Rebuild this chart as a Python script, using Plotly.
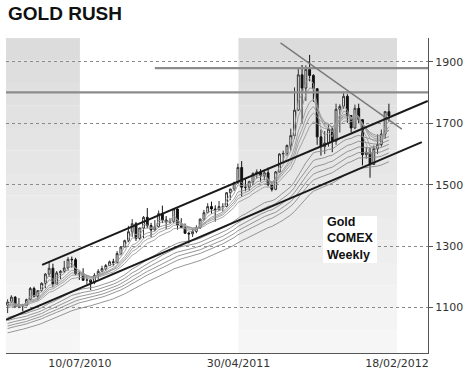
import pandas as pd
import plotly.graph_objects as go

TITLE = "GOLD RUSH"
BOX_TEXT = "Gold<br>COMEX<br>Weekly"

# Weekly candles (week ending Friday), first week 2010-02-26
WEEK_START = "2010-02-26"
OPEN = [1107, 1118, 1134, 1102, 1108, 1106, 1126, 1162, 1137, 1155, 1179, 1209, 1228, 1176, 1213, 1218, 1229, 1257, 1256, 1210,
        1210, 1189, 1190, 1182, 1205, 1218, 1227, 1237, 1249, 1246, 1276, 1297, 1318, 1347, 1373, 1325, 1359, 1394, 1367, 1353,
        1363, 1406, 1385, 1379,
        1380, 1421, 1369, 1361, 1342, 1340, 1348, 1360, 1388, 1409, 1429, 1421, 1418, 1429, 1429, 1474, 1486, 1506, 1556, 1492,
        1492, 1510, 1537, 1542, 1530, 1539, 1500, 1485, 1542, 1600, 1602, 1628, 1660, 1743, 1858, 1815, 1876, 1856, 1813, 1656,
        1624, 1636, 1681, 1642, 1746, 1755, 1788, 1725, 1685, 1749, 1712, 1598, 1606,
        1566, 1617, 1631, 1665, 1738]
HIGH = [1127, 1140, 1137, 1131, 1112, 1129, 1167, 1168, 1157, 1182, 1212, 1250, 1243, 1219, 1222, 1252, 1264, 1266, 1262, 1216,
        1228, 1204, 1193, 1212, 1225, 1236, 1242, 1253, 1259, 1284, 1300, 1321, 1366, 1388, 1379, 1360, 1398, 1424, 1376, 1385,
        1416, 1432, 1398, 1391,
        1424, 1423, 1391, 1374, 1346, 1357, 1368, 1390, 1418, 1440, 1445, 1433, 1447, 1440, 1476, 1487, 1510, 1569, 1577, 1519,
        1513, 1540, 1550, 1551, 1549, 1556, 1511, 1545, 1603, 1611, 1631, 1683, 1817, 1880, 1890, 1889, 1923, 1860, 1813, 1680,
        1675, 1697, 1689, 1764, 1762, 1803, 1795, 1727, 1761, 1764, 1713, 1623, 1620,
        1628, 1664, 1680, 1740, 1764]
LOW = [1082, 1115, 1101, 1098, 1088, 1105, 1123, 1134, 1124, 1150, 1163, 1200, 1166, 1175, 1193, 1213, 1220, 1230, 1206, 1190,
       1187, 1176, 1157, 1176, 1193, 1216, 1220, 1235, 1235, 1244, 1270, 1296, 1313, 1330, 1317, 1320, 1326, 1358, 1330, 1348,
       1360, 1375, 1356, 1373,
       1375, 1354, 1362, 1340, 1309, 1330, 1342, 1356, 1383, 1407, 1406, 1380, 1417, 1413, 1427, 1450, 1480, 1503, 1462, 1479,
       1481, 1499, 1520, 1510, 1515, 1495, 1478, 1482, 1540, 1577, 1594, 1611, 1650, 1740, 1702, 1773, 1837, 1770, 1630, 1595,
       1600, 1624, 1606, 1630, 1670, 1748, 1702, 1670, 1681, 1700, 1563, 1585, 1523,
       1566, 1600, 1624, 1650, 1705]
CLOSE = [1118, 1134, 1102, 1108, 1106, 1126, 1162, 1137, 1155, 1179, 1209, 1228, 1176, 1213, 1218, 1229, 1257, 1256, 1210, 1210,
         1189, 1190, 1182, 1205, 1218, 1227, 1237, 1249, 1246, 1276, 1297, 1318, 1347, 1373, 1325, 1359, 1394, 1367, 1353, 1363,
         1406, 1385, 1379, 1380,
         1421, 1369, 1361, 1342, 1340, 1348, 1360, 1388, 1409, 1429, 1421, 1418, 1429, 1429, 1474, 1486, 1506, 1556, 1492, 1492,
         1510, 1537, 1542, 1530, 1539, 1500, 1485, 1542, 1600, 1602, 1628, 1660, 1743, 1858, 1815, 1876, 1856, 1813, 1656, 1624,
         1636, 1681, 1642, 1746, 1755, 1788, 1725, 1685, 1749, 1712, 1598, 1606, 1566,
         1617, 1631, 1665, 1738, 1725]

# Weekly closes before the visible window (used to seed the moving averages)
WARMUP_START = "2009-01-02"
WARMUP_CLOSE = [878, 853, 840, 897, 928, 914, 941, 1002, 942, 940, 930, 953, 924, 898, 881, 871, 911, 885, 915, 929,
                958, 979, 962, 937, 934, 940, 931, 912, 937, 953, 955, 956, 947, 953, 955, 996, 1007, 1010, 992, 1004,
                1050, 1052, 1056, 1045, 1096, 1117, 1146, 1175, 1161, 1119, 1110, 1105, 1097, 1138, 1141, 1090, 1083,
                1066, 1090, 1120]

EMA_SHORT = [3, 5, 8, 10, 12, 15]
EMA_LONG = [30, 35, 40, 45, 50, 60]

X_TICKS = ["2010-07-10", "2011-04-30", "2012-02-18"]
X_RANGE = ["2010-02-23", "2012-04-15 12:00"]
Y_TICKS = [1100, 1300, 1500, 1700, 1900]
Y_RANGE = [952, 1978]
SHADED_FROM = ["2010-02-23", "2011-04-30"]
SHADED_TO = ["2010-07-10", "2012-02-18"]

CHANNEL_UPPER_X = ["2010-05-01", "2012-04-15"]
CHANNEL_UPPER_Y = [1239, 1773]
CHANNEL_LOWER_X = ["2010-02-23", "2012-04-04"]
CHANNEL_LOWER_Y = [1060, 1639]
DOWNTREND_X = ["2011-07-17", "2012-02-27"]
DOWNTREND_Y = [1962, 1681]
LEVEL_HIGH_X = ["2010-11-26", "2012-04-15 12:00"]
LEVEL_HIGH_Y = [1880, 1880]
LEVEL_LOW_X = ["2010-02-23", "2012-04-15 12:00"]
LEVEL_LOW_Y = [1801, 1801]

dates = pd.date_range(WEEK_START, periods=len(CLOSE), freq="W-FRI")
warm_dates = pd.date_range(WARMUP_START, periods=len(WARMUP_CLOSE), freq="W-FRI")
all_close = pd.Series(WARMUP_CLOSE + CLOSE, index=list(warm_dates) + list(dates))

fig = go.Figure()

# moving-average ribbon
for n in EMA_LONG + EMA_SHORT:
    ema = all_close.ewm(span=n, adjust=False).mean().loc[dates]
    fig.add_trace(go.Scatter(x=dates, y=ema.values, mode="lines",
                             line=dict(color="#8a8a8a" if n >= 30 else "#9a9a9a", width=0.9),
                             hoverinfo="skip", showlegend=False))

fig.add_trace(go.Candlestick(
    x=dates, open=OPEN, high=HIGH, low=LOW, close=CLOSE,
    increasing=dict(line=dict(color="#333333", width=1), fillcolor="white"),
    decreasing=dict(line=dict(color="#111111", width=1), fillcolor="#111111"),
    whiskerwidth=0, showlegend=False))

for xs, ys, col, w in [(LEVEL_LOW_X, LEVEL_LOW_Y, "#8c8c8c", 2.2),
                       (LEVEL_HIGH_X, LEVEL_HIGH_Y, "#8c8c8c", 2.2),
                       (DOWNTREND_X, DOWNTREND_Y, "#7a7a7a", 1.4),
                       (CHANNEL_UPPER_X, CHANNEL_UPPER_Y, "#1a1a1a", 2),
                       (CHANNEL_LOWER_X, CHANNEL_LOWER_Y, "#1a1a1a", 2)]:
    fig.add_trace(go.Scatter(x=xs, y=ys, mode="lines", line=dict(color=col, width=w),
                             hoverinfo="skip", showlegend=False))

# shaded bands with a soft vertical gradient
shapes = []
N = 14
for a, b in zip(SHADED_FROM, SHADED_TO):
    for i in range(N):
        g = int(0xdc + (0xf6 - 0xdc) * i / (N - 1))
        shapes.append(dict(type="rect", xref="x", yref="paper", x0=a, x1=b,
                           y0=1 - (i + 1) / N, y1=1 - i / N, layer="below",
                           fillcolor=f"rgb({g},{g},{g})", line=dict(width=0)))
# label box
shapes.append(dict(type="rect", xref="paper", yref="paper", x0=0.7512, x1=0.8791,
                   y0=0.2857, y1=0.4349, fillcolor="white", line=dict(width=0), layer="above"))

annotations = [
    dict(text=f"<b>{TITLE}</b>", xref="paper", yref="paper", x=0, y=1.0762,
         xanchor="left", yanchor="middle", showarrow=False,
         font=dict(family="Liberation Sans, Arial", size=19, color="#111")),
    dict(text=f"<b>{BOX_TEXT}</b>", xref="paper", yref="paper", x=0.756, y=0.365,
         xanchor="left", yanchor="middle", align="left", showarrow=False,
         font=dict(family="Liberation Sans, Arial", size=12.5, color="#111")),
]

fig.update_layout(
    width=470, height=378, margin=dict(l=6, r=42, t=38, b=25, autoexpand=False),
    paper_bgcolor="white", plot_bgcolor="white", showlegend=False,
    shapes=shapes, annotations=annotations,
    font=dict(family="DejaVu Sans", size=11, color="#333"),
    xaxis=dict(type="date", range=X_RANGE, tickvals=X_TICKS, tickformat="%d/%m/%Y",
               showgrid=False, showline=True, linecolor="#555", linewidth=1,
               ticks="", rangeslider=dict(visible=False), zeroline=False, automargin=False,
               tickfont=dict(family="DejaVu Sans", size=11, color="#333")),
    yaxis=dict(side="right", range=Y_RANGE, tickvals=Y_TICKS, showgrid=True,
               gridcolor="#8a8a8a", griddash="dot", gridwidth=1, automargin=False,
               showline=True, linecolor="#555", linewidth=1, ticks="outside",
               ticklen=4, tickcolor="#555", zeroline=False,
               tickfont=dict(family="DejaVu Sans", size=11, color="#333")),
)

fig.write_html("out.html", config={"displayModeBar": False},
               post_script="document.body.style.margin='0';document.body.style.padding='0';")
